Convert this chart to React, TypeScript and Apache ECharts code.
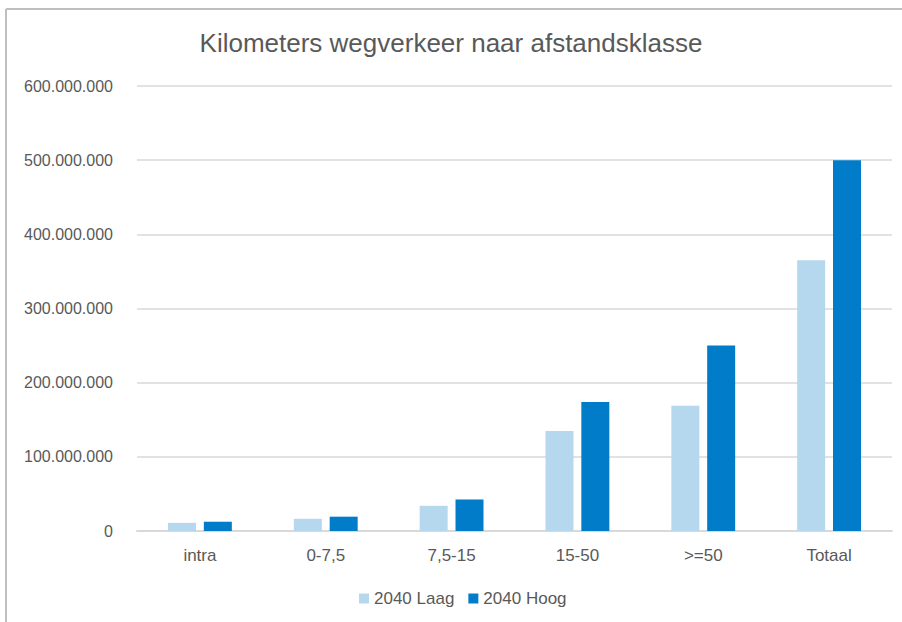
import React, { useEffect, useRef } from "react";
import * as echarts from "echarts";

const categories = ["intra", "0-7,5", "7,5-15", "15-50", ">=50", "Totaal"];
const laag = [11000000, 16500000, 34000000, 135000000, 169000000, 365000000];
const hoog = [12500000, 19300000, 42500000, 174000000, 250000000, 500000000];
const seriesNames = ["2040 Laag", "2040 Hoog"];
const title = "Kilometers wegverkeer naar afstandsklasse";

const FONT = "Liberation Sans";

function fmt(v: number): string {
  return String(Math.round(v)).replace(/\B(?=(\d{3})+(?!\d))/g, ".");
}

export default function App() {
  const ref = useRef<HTMLDivElement>(null);
  useEffect(() => {
    if (!ref.current) return;
    const chart = echarts.init(ref.current, null, { renderer: "svg" });
    chart.setOption({
      animation: false,
      backgroundColor: "#ffffff",
      title: {
        text: title,
        left: "center",
        top: 25,
        textStyle: { fontFamily: FONT, fontSize: 26, fontWeight: "normal", color: "#595959" },
      },
      graphic: [
        { type: "line", shape: { x1: 6, y1: 9, x2: 902, y2: 9 }, style: { stroke: "#bfbfbf", lineWidth: 2 } },
        { type: "line", shape: { x1: 6, y1: 9, x2: 6, y2: 622 }, style: { stroke: "#bfbfbf", lineWidth: 2 } },
      ],
      legend: {
        bottom: 10,
        left: 354,
        itemWidth: 10,
        itemHeight: 10,
        itemGap: 14,
        icon: "rect",
        textStyle: { fontFamily: FONT, fontSize: 17, color: "#595959" },
        data: seriesNames,
      },
      grid: { left: 137, right: 10, top: 86, bottom: 91 },
      xAxis: {
        type: "category",
        data: categories,
        axisLine: { lineStyle: { color: "#d9d9d9", width: 2 } },
        axisTick: { show: false },
        axisLabel: { fontFamily: FONT, fontSize: 17, color: "#595959", margin: 16 },
      },
      yAxis: {
        type: "value",
        min: 0,
        max: 600000000,
        interval: 100000000,
        axisLine: { show: false },
        axisTick: { show: false },
        splitLine: { lineStyle: { color: "#d9d9d9", width: 1.5 } },
        axisLabel: {
          fontFamily: FONT,
          fontSize: 16,
          color: "#595959",
          margin: 24,
          formatter: (v: number) => fmt(v),
        },
      },
      series: [
        {
          name: seriesNames[0],
          type: "bar",
          data: laag,
          barWidth: 28,
          barGap: "28%",
          itemStyle: { color: "#b5d8ef" },
        },
        {
          name: seriesNames[1],
          type: "bar",
          data: hoog,
          barWidth: 28,
          itemStyle: { color: "#007cc9" },
        },
      ],
    });
    return () => chart.dispose();
  }, []);
  return (
    <div
      ref={ref}
      style={{ position: "fixed", left: 0, top: 0, width: 902, height: 622 }}
    />
  );
}
